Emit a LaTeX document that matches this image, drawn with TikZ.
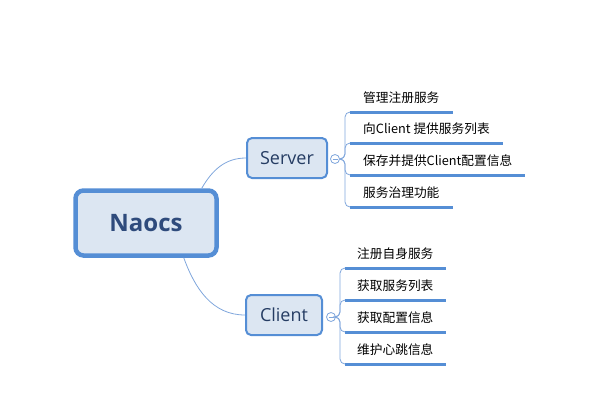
\documentclass[tikz,border=0pt]{standalone}
\usepackage{fontspec}
\setmainfont{Open Sans}
\newfontfamily\cjk{Noto Sans CJK SC}
\usetikzlibrary{calc}
\definecolor{bordc}{HTML}{558ED5}
\definecolor{fillc}{HTML}{DCE6F2}
\definecolor{txtc}{HTML}{2F4B7C}
\definecolor{linec}{HTML}{7FA6DC}
\begin{document}
\begin{tikzpicture}[x=1pt,y=-1pt,
  rootbox/.style={draw=bordc,fill=fillc,line width=4.5pt,rounded corners=8pt,
    minimum width=141pt,minimum height=65pt,inner sep=0pt,
    font=\fontsize{24}{28}\selectfont\bfseries,text=txtc},
  subbox/.style={draw=bordc,fill=fillc,line width=2pt,rounded corners=5pt,
    minimum height=40pt,inner sep=0pt,
    font=\fontsize{18}{20}\selectfont,text=txtc!80!black},
  leaf/.style={anchor=south west,inner xsep=13pt,inner ysep=0pt,text depth=9pt,
    font=\cjk\fontsize{12.7}{14}\selectfont,text=black},
  uline/.style={draw=bordc,line width=3pt},
  br/.style={draw=linec,line width=0.8pt},
  fold/.style={circle,draw=linec,fill=white,line width=0.8pt,minimum size=9pt,inner sep=0pt},
]
\useasboundingbox (0,0) rectangle (616,408);
\node[rootbox] (naocs) at (146,223) {Naocs};
\node[subbox,minimum width=80pt] (server) at (287,158) {Server};
\node[subbox,minimum width=76pt] (client) at (284,315) {Client};
\node[fold] (sc) at (335,159) {};
\node[fold] (cc) at (331,317) {};
\foreach \c in {sc,cc}{
  \draw[linec,line width=0.8pt] ($(\c.center)+(-2.5,0)$) -- ($(\c.center)+(2.5,0)$);
}
% connectors root -> sub
\draw[br] ($(naocs.north east)+(-17,0)$) to[out=60,in=180] (server.west);
\draw[br] ($(naocs.south east)+(-35,0)$) to[out=-70,in=180] (client.west);
% server leaves
\node[leaf] (s1) at (350,112) {管理注册服务};
\node[leaf] (s2) at (350,143) {向Client 提供服务列表};
\node[leaf] (s3) at (350,175) {保存并提供Client配置信息};
\node[leaf] (s4) at (350,207) {服务治理功能};
% client leaves
\node[leaf,inner xsep=12pt] (c1) at (345,268) {注册自身服务};
\node[leaf,inner xsep=12pt] (c2) at (345,300) {获取服务列表};
\node[leaf,inner xsep=12pt] (c3) at (345,332) {获取配置信息};
\node[leaf,inner xsep=12pt] (c4) at (345,364) {维护心跳信息};
\foreach \n in {s1,s2,s3,s4,c1,c2,c3,c4}{
  \draw[uline] (\n.south west) -- (\n.south east);
}
\foreach \n in {s1,s2,s3,s4}{
  \draw[br,rounded corners=5pt] (sc.east) -| ($(\n.south west)+(-5,0)$) -- (\n.south west);
}
\foreach \n in {c1,c2,c3,c4}{
  \draw[br,rounded corners=5pt] (cc.east) -| ($(\n.south west)+(-5,0)$) -- (\n.south west);
}
\end{tikzpicture}
\end{document}
